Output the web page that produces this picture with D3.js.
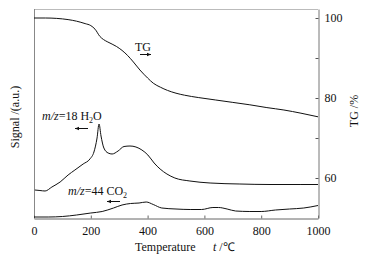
<!DOCTYPE html>
<html>
<head>
<meta charset="utf-8">
<script src="https://cdn.jsdelivr.net/npm/d3@7"></script>
<style>
  body { margin: 0; background: #fff; }
  text { font-family: "Liberation Serif", "Times New Roman", serif; fill: #111; }
</style>
</head>
<body>
<div id="chart"></div>
<script>
// temperature / TG mass (%)
var tgT = [0, 40, 80, 120, 150, 180, 200, 215, 232, 245, 260, 290, 310, 330, 350, 373, 400, 420, 445, 470, 500, 530, 580, 640, 700, 760, 820, 880, 940, 1000];
var tgV = [100, 100, 99.9, 99.6, 99.2, 98.6, 98.1, 97.2, 95.4, 94.6, 94, 92.9, 91.9, 90.6, 89, 87, 85, 83.7, 82.7, 81.9, 81.2, 80.7, 80.1, 79.5, 78.9, 78.3, 77.6, 77, 76.2, 75.3];

// m/z=18 signal (arbitrary units)
var h2oT = [3, 21, 39, 63, 92, 120, 144, 173, 197, 211, 222, 229, 236, 246, 261, 275, 296, 317, 338, 359, 380, 401, 423, 444, 468, 496, 549, 620, 725, 831, 937, 1000];
var h2oV = [28, 27.5, 27, 31, 36, 43, 48, 54, 59, 66, 80, 94, 82, 70, 65, 64, 67, 71.5, 72, 71, 68, 63, 55, 49, 44, 40, 37, 35, 34, 33.5, 33.5, 33.5];

// m/z=44 signal (arbitrary units)
var co2T = [0, 50, 100, 150, 200, 240, 280, 310, 340, 370, 395, 420, 450, 500, 550, 590, 630, 650, 680, 710, 760, 800, 850, 900, 950, 1000];
var co2V = [1, 1, 1.5, 3, 5, 6.5, 10, 13, 14.5, 15, 16, 13.5, 10, 9, 8.5, 8.5, 10.5, 10.5, 9, 7, 6.5, 6.5, 8, 9, 10, 12.5];

var xTicks = [0, 200, 400, 600, 800, 1000];
var tgTicks = [60, 70, 80, 90, 100];
var tgLabels = [60, 80, 100];

var w = 367, h = 259,
    mLeft = 34, mRight = 318, mTop = 9, mBottom = 218;

var svg = d3.select("#chart").append("svg")
    .attr("width", w).attr("height", h);

var x = d3.scaleLinear().domain([0, 1000]).range([mLeft, mRight]);
var yTG = d3.scaleLinear().domain([50, 102.25]).range([mBottom, mTop]);
var ySig = d3.scaleLinear().domain([0, 209]).range([mBottom, mTop]);

// frame
svg.append("line").attr("x1", mLeft).attr("x2", mRight).attr("y1", mTop + 0.5).attr("y2", mTop + 0.5)
   .attr("stroke", "#bbb");
svg.append("line").attr("x1", mLeft + 0.5).attr("x2", mLeft + 0.5).attr("y1", mTop).attr("y2", mBottom)
   .attr("stroke", "#888");

// bottom axis, ticks inside
var gx = svg.append("g")
    .attr("transform", "translate(0," + (mBottom + 0.5) + ")")
    .call(d3.axisBottom(x).tickValues(xTicks).tickFormat(d3.format("d"))
          .tickSizeInner(-3).tickSizeOuter(0).tickPadding(8));
gx.select(".domain").attr("stroke", "#666");
gx.selectAll(".tick line").attr("stroke", "#666");
gx.selectAll(".tick text").style("font-size", "12px").style("font-family", "Liberation Serif").attr("fill", "#111");

// right axis, ticks inside
var gy = svg.append("g")
    .attr("transform", "translate(" + (mRight + 0.5) + ",0)")
    .call(d3.axisRight(yTG).tickValues(tgTicks).tickSizeInner(-3).tickSizeOuter(0).tickPadding(6)
          .tickFormat(function(d) { return tgLabels.indexOf(d) >= 0 ? d : ""; }));
gy.select(".domain").attr("stroke", "#777");
gy.selectAll(".tick line").attr("stroke", "#555");
gy.selectAll(".tick text").style("font-size", "12px").style("font-family", "Liberation Serif").attr("fill", "#111");

// curves
function drawCurve(ts, vs, ys) {
    var pts = ts.map(function(t, i) { return [t, vs[i]]; });
    var line = d3.line()
        .x(function(d) { return x(d[0]); })
        .y(function(d) { return ys(d[1]); })
        .curve(d3.curveMonotoneX);
    svg.append("path").datum(pts)
        .attr("d", line)
        .attr("fill", "none")
        .attr("stroke", "#111")
        .attr("stroke-width", 1);
}
drawCurve(tgT, tgV, yTG);
drawCurve(h2oT, h2oV, ySig);
drawCurve(co2T, co2V, ySig);

// annotations
function arrow(x1, x2, y) {
    svg.append("line").attr("x1", x1).attr("x2", x2).attr("y1", y).attr("y2", y)
       .attr("stroke", "#111").attr("stroke-width", 1);
    var d = x2 > x1 ? -1 : 1;
    svg.append("path")
       .attr("d", "M" + x2 + "," + y + "L" + (x2 + d * 4) + "," + (y - 1.8) + "L" + (x2 + d * 4) + "," + (y + 1.8) + "Z")
       .attr("fill", "#111");
}

svg.append("text").attr("x", 135).attr("y", 51).style("font-size", "12px").text("TG");
arrow(140, 151, 54.5);

var t1 = svg.append("text").attr("x", 42).attr("y", 120).style("font-size", "12px");
t1.append("tspan").style("font-style", "italic").text("m/z");
t1.append("tspan").text("=18 H");
t1.append("tspan").attr("dy", 3).style("font-size", "8px").text("2");
t1.append("tspan").attr("dy", -3).text("O");
arrow(88, 75, 128.5);

var t2 = svg.append("text").attr("x", 68).attr("y", 195).style("font-size", "12px");
t2.append("tspan").style("font-style", "italic").text("m/z");
t2.append("tspan").text("=44 CO");
t2.append("tspan").attr("dy", 3).style("font-size", "8px").text("2");
arrow(120, 107, 201.5);

// axis titles
var xt = svg.append("text").attr("x", 135).attr("y", 251).style("font-size", "12px");
xt.append("tspan").text("Temperature");
xt.append("tspan").attr("x", 213).style("font-style", "italic").text("t");
xt.append("tspan").text(" /℃");

svg.append("text")
    .attr("transform", "translate(19,117) rotate(-90)")
    .attr("text-anchor", "middle")
    .style("font-size", "12px")
    .text("Signal /(a.u.)");

svg.append("text")
    .attr("transform", "translate(358,111) rotate(-90)")
    .attr("text-anchor", "middle")
    .style("font-size", "12px")
    .text("TG /%");
</script>
</body>
</html>
